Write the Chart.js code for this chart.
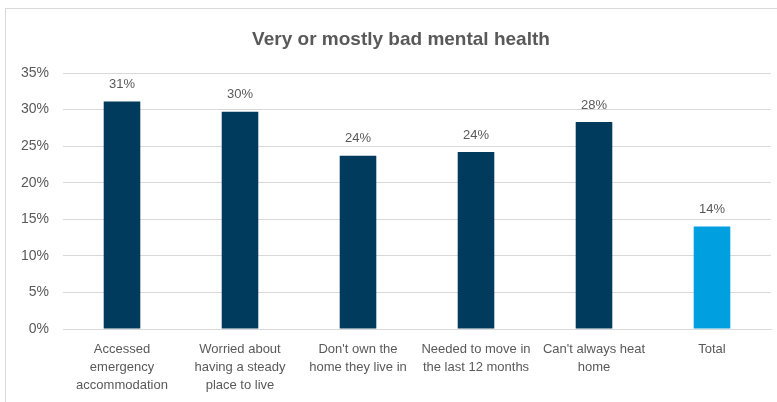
<!DOCTYPE html>
<html>
<head>
<meta charset="utf-8">
<script src="https://cdn.jsdelivr.net/npm/chart.js@4"></script>
<style>
  html, body { margin: 0; padding: 0; background: #fff; }
  #wrap { position: relative; width: 777px; height: 402px; overflow: hidden; }
  #frame { position: absolute; left: 5px; top: 8px; width: 800px; height: 420px; border: 1px solid #d9d9d9; box-sizing: border-box; }
  canvas { position: absolute; left: 0; top: 0; }
</style>
</head>
<body>
<div id="wrap">
  <div id="frame"></div>
  <canvas id="chart" width="777" height="402"></canvas>
</div>
<script>
const categories = [
  ['Accessed', 'emergency', 'accommodation'],
  ['Worried about', 'having a steady', 'place to live'],
  ["Don't own the", 'home they live in'],
  ['Needed to move in', 'the last 12 months'],
  ["Can't always heat", 'home'],
  ['Total']
];
const badMentalHealth = [31.1, 29.7, 23.7, 24.2, 28.3, 14.0];
const barColors = ['#003a5d', '#003a5d', '#003a5d', '#003a5d', '#003a5d', '#009fdf'];
const titleText = 'Very or mostly bad mental health';

const textGray = '#595959';
const fontFamily = "'Liberation Sans', Arial, sans-serif";

// title and value labels drawn by hand
const extras = {
  id: 'extras',
  afterDatasetsDraw(chart) {
    const ctx = chart.ctx;
    ctx.save();
    ctx.fillStyle = textGray;
    ctx.textAlign = 'center';
    ctx.textBaseline = 'middle';
    ctx.font = 'bold 19px ' + fontFamily;
    ctx.fillText(titleText, 401, 40);

    ctx.font = '13px ' + fontFamily;
    const meta = chart.getDatasetMeta(0);
    meta.data.forEach((bar, i) => {
      ctx.fillText(Math.round(badMentalHealth[i]) + '%', bar.x, bar.y - 17);
    });
    ctx.restore();
  }
};

new Chart(document.getElementById('chart'), {
  type: 'bar',
  data: {
    labels: categories,
    datasets: [{
      data: badMentalHealth,
      backgroundColor: barColors,
      barPercentage: 0.62,
      categoryPercentage: 0.5
    }]
  },
  options: {
    responsive: false,
    animation: false,
    layout: { padding: { top: 73, right: 6, bottom: 0, left: 0 } },
    plugins: {
      legend: { display: false },
      tooltip: { enabled: false }
    },
    scales: {
      x: {
        grid: { display: false, drawTicks: false },
        border: { color: '#d9d9d9' },
        ticks: {
          color: textGray,
          font: { family: fontFamily, size: 13, lineHeight: 1.4 },
          padding: 11,
          maxRotation: 0,
          autoSkip: false
        },
        afterFit(scale) { scale.height = 73; }
      },
      y: {
        min: 0,
        max: 35,
        grid: { color: '#d9d9d9', drawTicks: false },
        border: { display: false },
        ticks: {
          stepSize: 5,
          color: textGray,
          font: { family: fontFamily, size: 14 },
          padding: 14,
          callback: v => v + '%'
        },
        afterFit(scale) { scale.width = 63; }
      }
    }
  },
  plugins: [extras]
});
</script>
</body>
</html>
